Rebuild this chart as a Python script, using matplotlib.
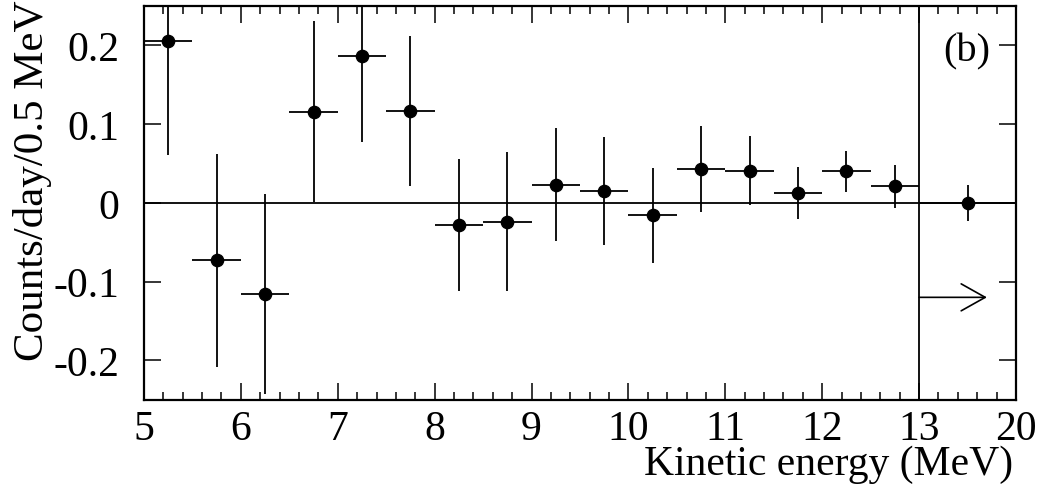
import numpy as np
import matplotlib
matplotlib.use('Agg')
import matplotlib.pyplot as plt

# bin centres (display units; last bin is the 13-20 MeV overflow drawn between 13 and "20")
bin_centre = [5.25, 5.75, 6.25, 6.75, 7.25, 7.75, 8.25, 8.75, 9.25, 9.75,
              10.25, 10.75, 11.25, 11.75, 12.25, 12.75, 13.5]
bin_halfwidth = [0.25] * 16 + [0.5]
counts = [0.206, -0.073, -0.116, 0.116, 0.186, 0.117, -0.028, -0.024, 0.023, 0.015,
          -0.016, 0.043, 0.041, 0.012, 0.040, 0.021, 0.0]
count_err = [0.145, 0.135, 0.127, 0.115, 0.109, 0.095, 0.084, 0.088, 0.072, 0.069,
             0.060, 0.055, 0.044, 0.033, 0.026, 0.027, 0.0225]

tick_pos = [5, 6, 7, 8, 9, 10, 11, 12, 13, 14]
tick_lab = ['5', '6', '7', '8', '9', '10', '11', '12', '13', '20']
ytick_pos = [-0.2, -0.1, 0, 0.1, 0.2]
ytick_lab = ['-0.2', '-0.1', '0', '0.1', '0.2']

plt.rcParams['font.family'] = ['Liberation Serif', 'DejaVu Serif']
plt.rcParams['axes.unicode_minus'] = False

fig = plt.figure(figsize=(10.57, 4.85), dpi=100)
ax = fig.add_axes([0.1362, 0.1738, 0.8250, 0.8118])

ax.axhline(0, color='black', lw=1.3, zorder=1)
ax.axvline(13, color='black', lw=1.3, zorder=1)

ax.errorbar(bin_centre, counts, xerr=bin_halfwidth, yerr=count_err,
            fmt='o', color='black', ms=8.8, elinewidth=1.3, capsize=0, zorder=3)

ax.annotate('', xy=(13.70, -0.12), xytext=(13.0, -0.12),
            arrowprops=dict(arrowstyle='->,head_length=1.73,head_width=0.97',
                            lw=1.2, color='black', shrinkA=0, shrinkB=0,
                            mutation_scale=10))

ax.text(0.970, 0.886, '(b)', transform=ax.transAxes, ha='right', va='center',
        fontsize=29)

ax.set_xlim(5, 14)
ax.set_ylim(-0.25, 0.25)
ax.set_xticks(tick_pos)
ax.set_xticklabels(tick_lab)
ax.set_xticks(np.arange(5, 14.01, 0.2), minor=True)
ax.set_yticks(ytick_pos)
ax.set_yticklabels(ytick_lab)

ax.tick_params(which='both', direction='in', top=True, right=True, width=1.1,
               labelsize=30)
ax.tick_params(which='major', length=12.2)
ax.tick_params(which='minor', length=6)
ax.tick_params(axis='y', pad=18)
ax.tick_params(axis='x', which='major', pad=7)
for s in ax.spines.values():
    s.set_linewidth(1.6)

fig.text(1013 / 1057, 1 - 484 / 485, 'Kinetic energy (MeV)', ha='right',
         va='bottom', fontsize=30)
fig.text(33 / 1057, 1 - 0 / 485, 'Counts/day/0.5 MeV', rotation=90,
         ha='center', va='top', fontsize=31)

fig.savefig('out.png', dpi=100)
